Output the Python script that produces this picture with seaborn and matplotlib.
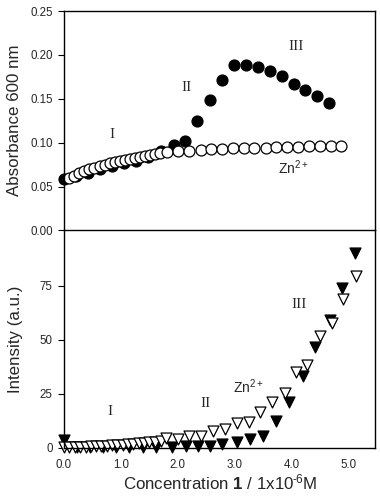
import numpy as np
import pandas as pd
import matplotlib
matplotlib.use("Agg")
import matplotlib.pyplot as plt
import seaborn as sns

# ---- data ----
abs_filled_x = [0.00, 0.21, 0.42, 0.63, 0.84, 1.05, 1.26, 1.47, 1.71, 1.93, 2.13, 2.34, 2.56,
                2.77, 2.98, 3.19, 3.40, 3.61, 3.82, 4.03, 4.23, 4.45, 4.66]
abs_filled_y = [0.059, 0.0615, 0.0655, 0.0695, 0.0735, 0.0765, 0.0795, 0.0835, 0.0905, 0.097, 0.102,
                0.125, 0.149, 0.171, 0.189, 0.189, 0.186, 0.182, 0.1755, 0.167, 0.160, 0.153, 0.145]

abs_open_x = [0.09, 0.18, 0.27, 0.36, 0.44, 0.53, 0.63, 0.72, 0.81, 0.90, 0.98, 1.07, 1.16,
              1.25, 1.33, 1.42, 1.51, 1.60, 1.68, 1.81, 2.01, 2.20, 2.40, 2.59, 2.77, 2.97,
              3.16, 3.34, 3.54, 3.73, 3.92, 4.11, 4.30, 4.49, 4.68, 4.87]
abs_open_y = [0.0599, 0.0625, 0.0656, 0.068, 0.0695, 0.0714, 0.0733, 0.0748, 0.0763, 0.0779,
              0.0790, 0.0802, 0.0813, 0.0825, 0.0836, 0.0847, 0.0859, 0.0870, 0.0882, 0.0897,
              0.0903, 0.0910, 0.0920, 0.0925, 0.0930, 0.0935, 0.0938, 0.0942, 0.0945, 0.0948,
              0.0952, 0.0955, 0.0958, 0.0961, 0.0964, 0.0966]

int_filled_x = [0.00, 0.23, 0.46, 0.69, 0.92, 1.15, 1.38, 1.61, 1.89, 2.15, 2.36, 2.56, 2.78,
                3.03, 3.26, 3.49, 3.73, 3.95, 4.19, 4.40, 4.67, 4.88, 5.11]
int_filled_y = [3.8, 0.2, 0.2, 0.3, 0.3, 0.4, 0.5, 0.6, 0.6, 0.7, 0.7, 0.7, 2.0,
                2.9, 4.3, 5.3, 12.2, 21.0, 33.4, 46.7, 59.0, 74.0, 90.2]

int_open_x = [0.00, 0.09, 0.19, 0.28, 0.38, 0.47, 0.56, 0.66, 0.75, 0.85, 0.94, 1.03, 1.13,
              1.22, 1.32, 1.41, 1.50, 1.60, 1.70, 1.80, 2.00, 2.20, 2.41, 2.62, 2.82, 3.04,
              3.25, 3.45, 3.66, 3.88, 4.07, 4.27, 4.49, 4.70, 4.90, 5.12]
int_open_y = [0.2, 0.3, 0.4, 0.5, 0.6, 0.7, 0.8, 1.0, 1.1, 1.2, 1.4, 1.5, 1.7,
              1.9, 2.1, 2.3, 2.5, 2.8, 3.2, 4.6, 4.3, 5.7, 5.3, 7.6, 8.9, 11.5,
              11.9, 16.8, 21.4, 25.3, 35.2, 38.3, 51.6, 57.9, 68.9, 79.3]

abs_ticks = [0.00, 0.05, 0.10, 0.15, 0.20, 0.25]
abs_tick_labels = ["0.00", "0.05", "0.10", "0.15", "0.20", "0.25"]
int_ticks = [0, 25, 50, 75]
int_tick_labels = ["0", "25", "50", "75"]
x_ticks = [0, 1, 2, 3, 4, 5]
x_tick_labels = ["0.0", "1.0", "2.0", "3.0", "4.0", "5.0"]

# ---- styling ----
sns.set_theme(style="white")
plt.rcParams["font.family"] = ["Liberation Sans", "DejaVu Sans"]
plt.rcParams["mathtext.fontset"] = "custom"
plt.rcParams["mathtext.rm"] = "Liberation Sans"
plt.rcParams["mathtext.it"] = "Liberation Sans"
plt.rcParams["mathtext.bf"] = "Liberation Sans:bold"

fig = plt.figure(figsize=(3.80, 5.01), dpi=100)
L, R = 0.168, 0.987
ax1 = fig.add_axes([L, 0.540, R - L, 0.978 - 0.540])
ax2 = fig.add_axes([L, 0.106, R - L, 0.540 - 0.106])
ax2.patch.set_alpha(0.0)

msize = 62
ew = 0.9

df_af = pd.DataFrame({"x": abs_filled_x, "y": abs_filled_y})
df_ao = pd.DataFrame({"x": abs_open_x, "y": abs_open_y})
df_if = pd.DataFrame({"x": int_filled_x, "y": int_filled_y})
df_io = pd.DataFrame({"x": int_open_x, "y": int_open_y})

sns.scatterplot(data=df_af, x="x", y="y", ax=ax1, marker="o", s=msize,
                color="black", edgecolor="black", linewidth=ew, zorder=3, clip_on=False)
sns.scatterplot(data=df_ao, x="x", y="y", ax=ax1, marker="o", s=msize,
                color="white", edgecolor="black", linewidth=ew, zorder=4, clip_on=False)
sns.scatterplot(data=df_if, x="x", y="y", ax=ax2, marker="v", s=msize,
                color="black", edgecolor="black", linewidth=ew, zorder=3, clip_on=False)
sns.scatterplot(data=df_io, x="x", y="y", ax=ax2, marker="v", s=msize,
                color="white", edgecolor="black", linewidth=ew, zorder=4, clip_on=False)

for ax in (ax1, ax2):
    ax.set_xlim(0, 5.46)
    ax.set_xlabel("")
    for sp in ax.spines.values():
        sp.set_color("black")
        sp.set_linewidth(1.0)
        sp.set_visible(True)
        sp.set_zorder(5)
    ax.tick_params(axis="y", direction="out", length=4, width=0.8, color="black",
                   labelsize=8.3, pad=4, left=True)

ax1.set_ylim(0, 0.25)
ax1.set_yticks(abs_ticks)
ax1.set_yticklabels(abs_tick_labels)
ax1.set_xticks([])
ax1.set_ylabel("Absorbance 600 nm", fontsize=12.2, labelpad=6)

ax2.set_ylim(0, 100.5)
ax2.set_yticks(int_ticks)
ax2.set_yticklabels(int_tick_labels)
ax2.set_xticks(x_ticks)
ax2.set_xticklabels(x_tick_labels)
ax2.tick_params(axis="x", length=0, labelsize=8.3, pad=8)
ax2.spines["top"].set_visible(False)
ax2.set_ylabel("Intensity (a.u.)", fontsize=12.2, labelpad=12)
ax2.set_xlabel("Concentration $\\mathbf{1}$ / 1x10$^{\u2010\\!6}$M", fontsize=12.2, labelpad=1)

serif = ["Liberation Serif", "DejaVu Serif"]
ax1.text(0.84, 0.109, "I", family=serif, fontsize=11, ha="center", va="center")
ax1.text(2.15, 0.163, "II", family=serif, fontsize=11, ha="center", va="center")
ax1.text(4.08, 0.210, "III", family=serif, fontsize=11, ha="center", va="center")
ax1.text(4.02, 0.071, r"Zn$^{2+}$", fontsize=10, ha="center", va="center")

ax2.text(0.81, 16.8, "I", family=serif, fontsize=11, ha="center", va="center")
ax2.text(2.49, 20.7, "II", family=serif, fontsize=11, ha="center", va="center")
ax2.text(4.13, 66.3, "III", family=serif, fontsize=11, ha="center", va="center")
ax2.text(3.23, 28.3, r"Zn$^{2+}$", fontsize=10, ha="center", va="center")

fig.savefig("out.png", dpi=100)
